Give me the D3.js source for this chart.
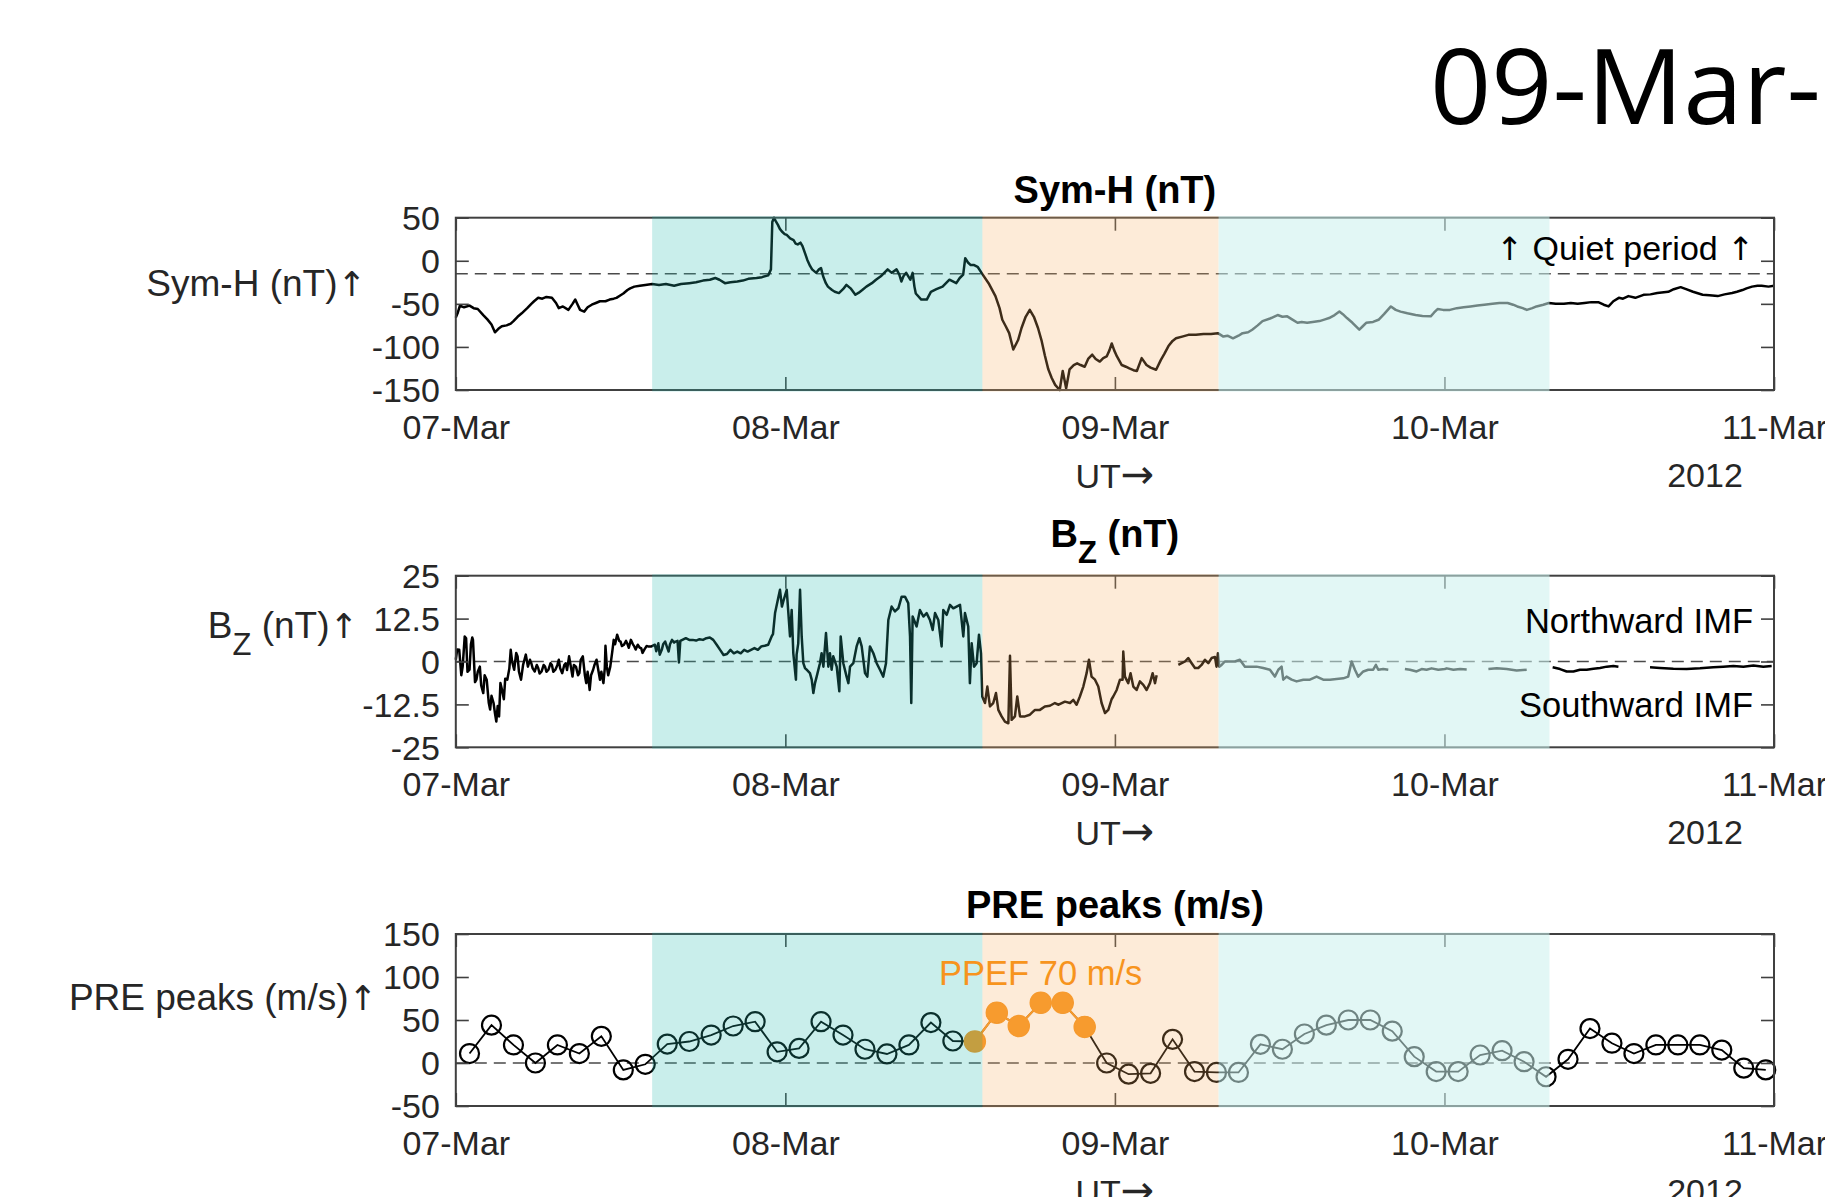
<!DOCTYPE html>
<html>
<head>
<meta charset="utf-8">
<script src="https://cdn.jsdelivr.net/npm/d3@7"></script>
<style>
  body { margin: 0; background: #fff; }
  svg { display: block; }
  text { font-family: "Liberation Sans", Arial, Helvetica, sans-serif; }
  tspan.arrow { font-family: "DejaVu Sans", sans-serif; }
</style>
</head>
<body>
<svg id="chart" width="1825" height="1197"></svg>
<script>
// ---------------- data ----------------
// time is in hours from 07-Mar-2012 00:00 UT
const dayTicks = [0, 24, 48, 72, 96];
const dayLabels = ["07-Mar", "08-Mar", "09-Mar", "10-Mar", "11-Mar"];
const yearLabel = "2012";

const symhTicks = [50, 0, -50, -100, -150];
const bzTicks = [25, 12.5, 0, -12.5, -25];
const preTicks = [150, 100, 50, 0, -50];

const symhQuietLevel = -15;

// shaded intervals: main phase build-up, storm main phase, recovery
const bandStart = [14.3, 38.35, 55.55];
const bandEnd = [38.35, 55.55, 79.65];

// Sym-H index (nT)
const symh = [
  [0,-66],[0.15,-60],[0.3,-52],[0.6,-54],[1.0,-52],[1.3,-55],[1.6,-56],[2.0,-63],[2.3,-68],[2.6,-74],
  [2.85,-83],[3.1,-79],[3.35,-76],[3.7,-75],[4.0,-73],[4.2,-70],[4.5,-65],[4.8,-61],[5.2,-55],[5.5,-50],
  [5.7,-47],[6.0,-43],[6.3,-44],[6.6,-42],[7.0,-43],[7.3,-49],[7.5,-55],[7.8,-53],[8.2,-57],[8.5,-50],
  [8.7,-45],[8.9,-52],[9.05,-57],[9.35,-59],[9.6,-54],[9.9,-51],[10.2,-49],[10.5,-47],[10.9,-47],[11.2,-45],
  [11.5,-44],[11.7,-43],[12.0,-40],[12.2,-38],[12.5,-34],[12.7,-32],[13.0,-30],[13.4,-29],[13.8,-28],[14.3,-27],
  [14.8,-28],[15.3,-27],[15.9,-29],[16.4,-27],[17.0,-26],[17.5,-25],[18.0,-23],[18.5,-22],[18.9,-20],[19.2,-22],
  [19.6,-26],[20.0,-25],[20.5,-24],[20.9,-23],[21.3,-21],[21.9,-20],[22.3,-19],[22.75,-17],[22.95,-10],[23.05,45],
  [23.17,50],[23.3,46],[23.45,42],[23.6,37],[23.75,34],[23.95,31],[24.1,30],[24.35,26],[24.6,24],[24.75,20],
  [24.9,19],[25.1,21],[25.25,17],[25.45,8],[25.6,1],[25.8,-6],[25.95,-10],[26.25,-14],[26.45,-10],[26.6,-8.5],
  [26.75,-18],[26.95,-26],[27.1,-30],[27.4,-34],[27.6,-36],[27.9,-37.5],[28.2,-33],[28.45,-28],[28.75,-32],[29.1,-39.5],
  [29.35,-37],[29.6,-34],[29.9,-30],[30.3,-26],[30.6,-22],[30.95,-18],[31.2,-14],[31.45,-10],[31.75,-14],[32.1,-10],
  [32.3,-16],[32.45,-24],[32.6,-18],[32.8,-14],[33.1,-22],[33.27,-14],[33.4,-30],[33.5,-38],[33.9,-45],[34.3,-45],
  [34.6,-36],[35.0,-33],[35.45,-30],[35.7,-26],[35.95,-22],[36.2,-24],[36.45,-26],[36.7,-20],[36.95,-16],[37.1,3],
  [37.3,-2],[37.5,-5],[37.75,-5],[38.0,-7],[38.35,-15.5],[38.8,-26],[39.3,-41],[39.6,-55],[39.8,-68.5],[40.05,-76],
  [40.3,-84],[40.6,-103],[40.95,-92],[41.2,-78],[41.5,-65],[41.8,-57],[42.1,-65],[42.4,-78],[42.65,-92],[42.9,-110],
  [43.15,-126],[43.4,-136],[43.65,-144],[43.98,-150],[44.2,-128],[44.45,-148],[44.7,-126],[45.0,-121],[45.25,-119],[45.5,-121],
  [45.8,-123],[46.05,-114],[46.35,-109],[46.6,-114],[46.9,-117],[47.15,-113],[47.4,-111],[47.6,-104],[47.77,-96],[47.95,-104],
  [48.15,-111],[48.5,-121],[48.8,-123],[49.05,-125],[49.35,-127],[49.6,-128],[49.95,-113],[50.3,-121],[50.6,-124],[51.0,-126.5],
  [51.35,-115],[51.6,-108],[51.9,-99],[52.2,-93],[52.45,-90],[52.9,-88],[53.35,-86],[53.9,-86],[54.45,-85],[55.0,-85],
  [55.5,-84],[55.9,-88],[56.2,-87],[56.6,-90],[57.0,-87],[57.3,-84],[57.7,-83],[58.0,-80],[58.4,-75],[58.75,-70],
  [59.3,-67],[59.85,-63],[60.2,-65],[60.55,-64.5],[60.9,-68],[61.3,-72],[61.6,-71],[62.0,-72],[62.4,-71],[62.9,-70],
  [63.3,-68],[63.6,-66.5],[64.0,-63],[64.35,-59],[64.6,-62],[64.9,-66.5],[65.3,-72],[65.8,-80],[66.05,-76],[66.3,-72],
  [66.8,-71],[67.2,-68.5],[67.6,-62],[68.1,-53],[68.45,-57],[68.8,-59],[69.3,-61],[69.9,-63],[70.4,-64],[71.0,-64.5],
  [71.25,-60],[71.5,-56],[71.9,-57],[72.4,-57],[72.9,-55],[73.4,-54],[73.9,-53],[74.4,-52],[74.9,-51],[75.5,-50],
  [76.0,-49],[76.6,-49],[77.0,-51],[77.3,-53],[77.7,-55],[78.0,-57],[78.4,-55],[78.7,-53],[79.2,-51],[79.6,-49],
  [80.1,-50],[80.7,-50],[81.2,-49],[81.7,-50],[82.2,-49],[82.7,-48],[83.2,-48],[83.6,-51],[83.95,-53],[84.3,-47],
  [84.7,-43],[85.0,-44],[85.4,-41],[85.9,-43],[86.5,-39.5],[87.0,-39],[87.5,-37.5],[88.3,-36],[88.7,-33],[89.2,-30.6],
  [89.6,-33],[90.1,-36],[90.8,-39.5],[91.3,-40],[91.9,-41],[92.4,-39],[92.95,-37.5],[93.3,-36],[93.7,-34],[94.0,-32],
  [94.4,-30],[94.8,-29],[95.1,-29],[95.6,-30],[96.0,-29]
];

// IMF Bz (nT); null marks a data gap
const bz = [
  [0,0.5],[0.1,3.5],[0.25,3.4],[0.4,-4],[0.5,-1.5],[0.65,7.3],[0.75,6.8],[0.85,-3],[1,-2.4],[1.1,5],
  [1.2,7.0],[1.25,6.3],[1.4,-6],[1.5,-5.3],[1.6,-3],[1.75,-1.5],[1.85,-7],[2,-9.2],[2.1,-4],[2.25,-5.3],
  [2.4,-12],[2.5,-14],[2.6,-10],[2.75,-12.1],[2.85,-15],[2.95,-17.5],[3.05,-13],[3.15,-16],[3.25,-6.3],[3.35,-8],
  [3.5,-11],[3.6,-5],[3.75,-5.3],[3.9,-2],[4.0,3.4],[4.1,0],[4.25,-2.4],[4.4,2.5],[4.5,1.5],[4.6,-3],
  [4.75,-5.3],[4.9,-1],[5,0.5],[5.1,2],[5.25,-1.5],[5.4,0.5],[5.5,-0.5],[5.6,-2],[5.75,-2.9],[5.9,-1],
  [6,-1.9],[6.1,-3.5],[6.25,-2.9],[6.4,-1],[6.5,-1.5],[6.6,-3],[6.75,-2.4],[6.9,-0.5],[7,-1],[7.1,-3],
  [7.25,-2.4],[7.4,-1],[7.5,0.5],[7.6,-2],[7.75,-3.4],[7.9,-1],[8,-0.5],[8.1,-2.5],[8.25,1.5],[8.4,-2],
  [8.5,-4.4],[8.6,-1],[8.75,-1.5],[8.9,-4],[9,-3.4],[9.1,0.5],[9.25,1.5],[9.4,-4],[9.5,-6.3],[9.6,-3],
  [9.75,-8.3],[9.85,-4],[10,-2.4],[10.1,-1],[10.25,0.5],[10.4,-3],[10.5,-5.3],[10.6,-3],[10.75,-6.3],[10.85,-2],
  [10.9,4.6],[11.0,-1.5],[11.1,-4],[11.25,-1.5],[11.4,3],[11.5,6.3],[11.6,5],[11.75,7.8],[11.9,6],[12,5.8],
  [12.1,4.5],[12.25,4.9],[12.4,6],[12.5,5.1],[12.6,4],[12.75,6.3],[12.9,5],[13,4.4],[13.1,3.5],[13.25,4.9],
  [13.4,4],[13.5,3.9],[13.6,2.5],[13.75,3.6],[13.9,4.5],[14,4.4],[14.25,4.4],[14.5,4.9],[14.6,3],[14.75,5.3],
  [14.85,2],[15,3.4],[15.1,5],[15.25,5.8],[15.4,4],[15.5,2.9],[15.6,5],[15.75,6.3],[15.9,5.5],[16,5.8],
  [16.15,6],[16.25,-0.3],[16.35,6],[16.5,6.3],[16.75,6.8],[17,6.3],[17.25,6.3],[17.5,6.1],[17.75,6.5],[18,6.3],
  [18.25,6.8],[18.5,7.0],[18.75,6.3],[19,4.9],[19.25,3.4],[19.5,1.9],[19.75,2.2],[20,3.4],[20.25,2.4],[20.5,2.9],
  [20.75,2.4],[21,3.4],[21.25,2.9],[21.5,3.4],[21.75,3.9],[22,3.4],[22.25,4.4],[22.5,4.6],[22.75,4.9],[23,7.3],
  [23.1,8],[23.25,14.1],[23.4,17],[23.5,18.9],[23.61,20.9],[23.75,16],[23.85,17.5],[24.1,20.9],[24.22,14.1],[24.34,7.3],
  [24.46,15],[24.58,2.4],[24.77,-5.3],[24.82,2],[24.94,5.3],[25.07,20.9],[25.19,7.3],[25.31,-0.5],[25.43,-1.9],[25.55,-2.4],
  [25.79,-3.4],[25.92,-5.3],[26.04,-9.2],[26.16,-6.3],[26.28,-4.4],[26.52,-0.5],[26.64,2.4],[26.77,-1.5],[26.96,8.3],[27.13,-1.5],
  [27.25,2.4],[27.37,-2.4],[27.49,1.5],[27.74,-1.5],[27.93,-8.7],[28.03,7.3],[28.22,-0.5],[28.46,-4.4],[28.59,-6.3],[28.71,-1.5],
  [28.95,-0.5],[29.19,4.4],[29.39,6.8],[29.56,4.4],[29.8,-3.4],[29.97,-4.4],[30.16,4.4],[30.41,2.4],[30.65,-0.5],[30.89,-2.4],
  [31.13,-4.4],[31.33,-0.5],[31.5,12.1],[31.74,16],[31.98,14.6],[32.23,15.5],[32.47,18.9],[32.71,18.9],[32.95,17],[33.08,7.3],
  [33.17,-12.1],[33.27,13.1],[33.56,10.2],[33.8,15],[34.05,13.1],[34.29,14.1],[34.53,12.1],[34.73,9.2],[34.9,14.1],[35.14,12.1],
  [35.38,4.4],[35.5,15],[35.75,13.6],[35.99,16.5],[36.23,15.5],[36.47,16],[36.72,16.5],[36.96,7.3],[37.08,14.1],[37.32,10.2],
  [37.44,-6.3],[37.57,5.3],[37.74,-1.5],[37.93,-0.5],[38.1,7.8],[38.25,2.4],[38.34,-10.2],[38.54,-12.1],[38.71,-7.3],[38.9,-13.1],
  [39.14,-12.1],[39.34,-9.2],[39.51,-14.1],[39.75,-16],[39.99,-17.5],[40.24,-18],[40.36,1.7],[40.48,-17],[40.72,-16],[40.89,-10.2],
  [41.09,-16],[41.45,-16],[41.81,-15.5],[42.18,-14.1],[42.54,-14.1],[42.9,-13.1],[43.27,-12.9],[43.63,-12.1],[43.9,-12.6],[44.36,-11.7],
  [44.73,-12.1],[44.97,-11.2],[45.21,-12.6],[45.45,-10.2],[45.7,-7.3],[45.94,-3.4],[46.11,0.5],[46.3,-4.4],[46.55,-5.3],[46.79,-7.3],
  [47.03,-12.1],[47.28,-15],[47.52,-14.1],[47.76,-11],[47.88,-10.2],[48.13,-8.3],[48.37,-5.3],[48.56,-5.3],[48.61,2.9],[48.73,-4.4],
  [48.97,-6.3],[49.14,-3.4],[49.34,-7.3],[49.58,-8.3],[49.82,-5.8],[50.07,-6.8],[50.31,-8.3],[50.55,-6.3],[50.75,-3.4],[50.92,-6.3],
  [51.04,-4],[51.2,null],
  [52.62,-1],[52.86,-0.5],[53.1,0],[53.34,1],[53.59,-0.5],[53.83,-1.9],[54.07,-1.9],[54.31,-1],[54.56,0.5],[54.8,-0.5],
  [55.04,1],[55.29,1.3],[55.4,-1.5],[55.5,2.4],[55.6,-1.5],[55.77,-1],[56.01,0],[56.38,0],[56.74,0],[57.1,0.5],
  [57.47,-1.5],[57.83,-1.5],[58.32,-1.5],[58.8,-1.9],[59.29,-2.4],[59.65,-4.4],[59.9,-2.4],[60.14,-1.5],[60.26,-5.3],[60.5,-4.4],
  [60.87,-5.3],[61.23,-5.8],[61.72,-5.3],[62.2,-5.3],[62.69,-4.4],[63.17,-5.3],[63.66,-5.3],[64.14,-5.1],[64.63,-4.9],[64.99,-4.4],
  [65.24,0],[65.48,-2.4],[65.72,-4.4],[66.09,-2.9],[66.45,-2.4],[66.81,-2.4],[67.01,-1],[67.18,-2.4],[67.54,-2.2],[67.91,-2.4],
  [68.0,null],
  [69.12,-2.2],[69.49,-2.4],[69.97,-2.9],[70.34,-2.2],[70.7,-2.4],[71.06,-2.0],[71.55,-2.4],[72.03,-2.2],[72.17,-2.0],[72.65,-2.4],
  [73.14,-2.2],[73.62,-2.3],[73.8,null],
  [75.2,-2.2],[75.81,-2.0],[76.53,-2.2],[77.26,-2.6],[77.99,-2.4],[78.2,null],
  [79.88,-1.7],[80.42,-2.2],[80.9,-2.9],[81.39,-2.9],[81.87,-2.4],[82.36,-2.4],[82.85,-2.1],[83.33,-1.9],[83.82,-1.5],[84.3,-1.3],
  [84.67,-1.5],[85.0,null],
  [86.97,-1.7],[87.7,-1.9],[88.67,-2.1],[89.64,-2.2],[90.61,-2.0],[91.58,-1.7],[92.3,-1.5],[93.04,-1.3],[93.77,-1.5],[94.5,-1.2],
  [95.22,-1.5],[95.83,-1.3]
];

// PRE peak vertical drift (m/s)
const preHours = [
  1.0, 2.6, 4.2, 5.8, 7.4, 9.0, 10.6, 12.2, 13.8, 15.4,
  17.0, 18.6, 20.2, 21.8, 23.4, 25.0, 26.6, 28.2, 29.8, 31.4,
  33.0, 34.6, 36.2, 37.8, 39.4, 41.0, 42.6, 44.2, 45.8, 47.4,
  49.0, 50.6, 52.2, 53.8, 55.4, 57.0, 58.6, 60.2, 61.8, 63.4,
  65.0, 66.6, 68.2, 69.8, 71.4, 73.0, 74.6, 76.2, 77.8, 79.4,
  81.0, 82.6, 84.2, 85.8, 87.4, 89.0, 90.6, 92.2, 93.8, 95.4
];
const preValues = [
  11, 44, 21, 0, 21, 11, 31, -8, -1.5, 22,
  25, 32.5, 43, 48, 13, 17, 48, 32.5, 16, 10.5,
  21, 47, 25.6, 25, 58.5, 43, 70, 70, 42, 0,
  -13, -12, 27.5, -10, -11, -11, 21.7, 16, 33.7, 44,
  50, 50, 37, 7.4, -10, -10, 9.3, 14.3, 1.5, -16,
  4.3, 40, 23, 11, 21, 21, 21, 15, -6, -8
];
// samples attributed to the prompt penetration electric field
const ppefIndex = [23, 24, 25, 26, 27, 28];

// ---------------- layout ----------------
const svg = d3.select("#chart");
const x = d3.scaleLinear().domain([0, 96]).range([455.8, 1774]);

const inkDark = "#262626";
const frame = "#404040";
const orange = "#f7941d";
const bandFill = ["rgb(39,187,175)", "rgb(247,175,99)", "rgb(202,240,236)"];
const bandOpacity = [0.25, 0.25, 0.55];
const tickLen = 13;
const fontTick = 34;

// big slide date heading
svg.append("text")
  .attr("transform", "translate(1430,124) scale(1.03,1)")
  .style("font-family", "'Open Sans', sans-serif")
  .style("font-size", "104px")
  .attr("fill", "#000")
  .text("09-Mar-2012");

// text with a trailing arrow glyph drawn from DejaVu Sans
function withArrow(sel, label, arrow, arrowSize) {
  sel.append("tspan").text(label);
  sel.append("tspan").attr("class", "arrow").style("font-size", arrowSize).text(arrow);
}

function panel(cfg) {
  const g = svg.append("g");
  const y = d3.scaleLinear().domain(cfg.domain).range([cfg.bottom, cfg.top]);
  const x0 = x.range()[0], x1 = x.range()[1];

  // reference (dashed) level
  g.append("line")
    .attr("x1", x0).attr("x2", x1)
    .attr("y1", y(cfg.ref)).attr("y2", y(cfg.ref))
    .attr("stroke", "#4a4a4a").attr("stroke-width", 1.6)
    .attr("stroke-dasharray", "12,7");

  cfg.draw(g, y);

  // axes box and inward ticks
  g.append("rect")
    .attr("x", x0).attr("y", cfg.top)
    .attr("width", x1 - x0).attr("height", cfg.bottom - cfg.top)
    .attr("fill", "none").attr("stroke", frame).attr("stroke-width", 2);

  const axL = d3.axisLeft(y).tickValues(cfg.ticks).tickSize(-tickLen).tickPadding(16)
    .tickFormat(d => String(d));
  const axR = d3.axisRight(y).tickValues(cfg.ticks).tickSize(-tickLen).tickFormat("");
  const axB = d3.axisBottom(x).tickValues(dayTicks).tickSize(-tickLen)
    .tickFormat((d, i) => dayLabels[i]);
  const axT = d3.axisTop(x).tickValues(dayTicks).tickSize(-tickLen).tickFormat("");

  const gl = g.append("g").attr("transform", `translate(${x0},0)`).call(axL);
  const gr = g.append("g").attr("transform", `translate(${x1},0)`).call(axR);
  const gb = g.append("g").attr("transform", `translate(0,${cfg.bottom})`).call(axB);
  const gt = g.append("g").attr("transform", `translate(0,${cfg.top})`).call(axT);
  [gl, gr, gb, gt].forEach(a => {
    a.select(".domain").remove();
    a.selectAll(".tick line").attr("stroke", frame).attr("stroke-width", 1.6);
    a.selectAll("text")
      .attr("fill", inkDark)
      .style("font-family", "'Liberation Sans', Arial, sans-serif")
      .style("font-size", fontTick + "px");
  });
  gl.selectAll("text").attr("dy", "0.35em");
  gb.selectAll("text").attr("dy", null).attr("y", 49);

  // shaded storm phases, laid over the data
  bandStart.forEach((s, i) => {
    g.append("rect")
      .attr("x", x(s)).attr("y", cfg.top - 1.5)
      .attr("width", x(bandEnd[i]) - x(s))
      .attr("height", cfg.bottom - cfg.top + 3)
      .attr("fill", bandFill[i]).attr("fill-opacity", bandOpacity[i]);
  });

  // axis captions
  const ut = g.append("text")
    .attr("x", (x0 + x1) / 2).attr("y", cfg.bottom + 98)
    .attr("text-anchor", "middle").attr("fill", inkDark)
    .style("font-size", fontTick + "px");
  withArrow(ut, "UT", "\u2192", "40px");
  g.append("text")
    .attr("x", 1705).attr("y", cfg.bottom + 97)
    .attr("text-anchor", "middle").attr("fill", inkDark)
    .style("font-size", fontTick + "px").text(yearLabel);

  // panel title
  const t = g.append("text")
    .attr("x", (x0 + x1) / 2).attr("y", cfg.top - cfg.titleGap)
    .attr("text-anchor", "middle").attr("fill", "#000")
    .style("font-size", "38px").style("font-weight", "bold");
  cfg.title(t);

  // y label
  const yl = g.append("text")
    .attr("x", cfg.ylabelX).attr("y", cfg.ylabelY)
    .attr("text-anchor", "end").attr("fill", inkDark)
    .style("font-size", "37px");
  cfg.ylabel(yl);

  if (cfg.notes) cfg.notes(g, y);
  return g;
}

// ---- Sym-H ----
panel({
  top: 217.7, bottom: 390, domain: [-150, 50], ticks: symhTicks, ref: symhQuietLevel,
  titleGap: 14.5, ylabelX: 366, ylabelY: 296,
  title: t => t.text("Sym-H (nT)"),
  ylabel: t => withArrow(t, "Sym-H (nT)", "\u2191", "34px"),
  draw: (g, y) => {
    g.append("path").datum(symh)
      .attr("d", d3.line().x(d => x(d[0])).y(d => y(d[1])))
      .attr("fill", "none").attr("stroke", "#000").attr("stroke-width", 2.5)
      .attr("stroke-linejoin", "round");
  },
  notes: (g) => {
    const q = g.append("text").attr("x", 1754).attr("y", 260)
      .attr("text-anchor", "end").attr("fill", "#000")
      .style("font-size", "34px");
    q.append("tspan").attr("class", "arrow").style("font-size", "32px").text("\u2191");
    q.append("tspan").text(" Quiet period ");
    q.append("tspan").attr("class", "arrow").style("font-size", "32px").text("\u2191");
  }
});

// ---- IMF Bz ----
panel({
  top: 575.7, bottom: 747.3, domain: [-25, 25], ticks: bzTicks, ref: 0,
  titleGap: 29, ylabelX: 358, ylabelY: 638,
  title: t => {
    t.append("tspan").text("B");
    t.append("tspan").attr("dy", 16).style("font-size", "31px").text("Z");
    t.append("tspan").attr("dy", -16).text(" (nT)");
  },
  ylabel: t => {
    t.append("tspan").text("B");
    t.append("tspan").attr("dy", 17).style("font-size", "31px").text("Z");
    t.append("tspan").attr("dy", -17).text(" (nT)");
    t.append("tspan").attr("class", "arrow").style("font-size", "34px").text("\u2191");
  },
  draw: (g, y) => {
    g.append("path").datum(bz)
      .attr("d", d3.line().defined(d => d[1] != null).x(d => x(d[0])).y(d => y(d[1])))
      .attr("fill", "none").attr("stroke", "#000").attr("stroke-width", 2.5)
      .attr("stroke-linejoin", "round");
  },
  notes: (g) => {
    g.append("text").attr("x", 1753).attr("y", 633)
      .attr("text-anchor", "end").attr("fill", "#000")
      .style("font-size", "34.5px").text("Northward IMF");
    g.append("text").attr("x", 1753).attr("y", 717)
      .attr("text-anchor", "end").attr("fill", "#000")
      .style("font-size", "34.5px").text("Southward IMF");
  }
});

// ---- PRE peaks ----
panel({
  top: 934, bottom: 1106, domain: [-50, 150], ticks: preTicks, ref: 0,
  titleGap: 16, ylabelX: 377, ylabelY: 1010,
  title: t => t.text("PRE peaks (m/s)"),
  ylabel: t => withArrow(t, "PRE peaks (m/s)", "\u2191", "34px"),
  draw: (g, y) => {
    const pts = preHours.map((h, i) => [h, preValues[i]]);
    g.append("path").datum(pts)
      .attr("d", d3.line().x(d => x(d[0])).y(d => y(d[1])))
      .attr("fill", "none").attr("stroke", "#000").attr("stroke-width", 1.8);
    g.selectAll("circle.pre").data(pts).enter().append("circle")
      .attr("class", "pre")
      .attr("cx", d => x(d[0])).attr("cy", d => y(d[1])).attr("r", 9.5)
      .attr("fill", "none").attr("stroke", "#000").attr("stroke-width", 2.2);

    const pp = ppefIndex.map(i => pts[i]);
    g.append("path").datum(pp)
      .attr("d", d3.line().x(d => x(d[0])).y(d => y(d[1])))
      .attr("fill", "none").attr("stroke", orange).attr("stroke-width", 2.2);
    g.selectAll("circle.ppef").data(pp).enter().append("circle")
      .attr("class", "ppef")
      .attr("cx", d => x(d[0])).attr("cy", d => y(d[1])).attr("r", 10.5)
      .attr("fill", orange).attr("stroke", orange).attr("stroke-width", 1.5);
  },
  notes: (g) => {
    const peak = d3.max(ppefIndex, i => preValues[i]);
    g.append("text").attr("x", 939).attr("y", 985)
      .attr("fill", orange).style("font-size", "34.5px")
      .text(`PPEF ${peak} m/s`);
  }
});
</script>
</body>
</html>
